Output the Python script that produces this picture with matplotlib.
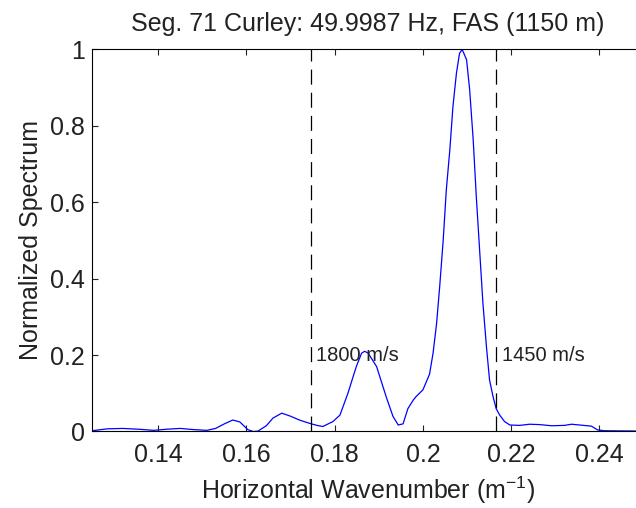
import numpy as np
import matplotlib
matplotlib.use('Agg')
import matplotlib.pyplot as plt

# =============================================================================
# Data
# =============================================================================
freq = 49.9987  # Hz
speeds = [1800, 1450]  # m/s, reference phase speeds

# normalized spectrum vs horizontal wavenumber (rad/m)
wavenumber = [0.1250, 0.1285, 0.1320, 0.1355, 0.1390, 0.1420, 0.1450, 0.1480,
              0.1510, 0.1530, 0.1550, 0.1569, 0.1585, 0.1603, 0.1615, 0.1626,
              0.1645, 0.1660, 0.1680, 0.1700, 0.1720, 0.1744, 0.1760, 0.1773,
              0.1796, 0.1812, 0.1830, 0.1849, 0.1861, 0.1868, 0.1876, 0.1895,
              0.1917, 0.1932, 0.1944, 0.1955, 0.1966, 0.1978, 0.1985, 0.2000,
              0.2015, 0.2023, 0.2031, 0.2038, 0.2046, 0.2053, 0.2061, 0.2068,
              0.2076, 0.2083, 0.2089, 0.2099, 0.2106, 0.2114, 0.2121, 0.2129,
              0.2136, 0.2144, 0.2151, 0.2159, 0.2166, 0.2174, 0.2185, 0.2197,
              0.2219, 0.2242, 0.2265, 0.2292, 0.2321, 0.2337, 0.2355, 0.2382,
              0.2396, 0.2412, 0.2500]
spectrum = [0.002, 0.007, 0.008, 0.006, 0.003, 0.006, 0.008, 0.005,
            0.003, 0.008, 0.020, 0.030, 0.025, 0.005, 0.000, 0.001,
            0.015, 0.035, 0.048, 0.040, 0.030, 0.021, 0.016, 0.013,
            0.026, 0.043, 0.100, 0.170, 0.205, 0.210, 0.205, 0.170,
            0.090, 0.040, 0.017, 0.020, 0.060, 0.082, 0.092, 0.109,
            0.150, 0.205, 0.283, 0.379, 0.501, 0.632, 0.737, 0.850,
            0.938, 0.990, 1.000, 0.973, 0.894, 0.763, 0.615, 0.466,
            0.336, 0.222, 0.135, 0.091, 0.060, 0.043, 0.026, 0.017,
            0.016, 0.019, 0.018, 0.015, 0.016, 0.019, 0.017, 0.014,
            0.004, 0.002, 0.001]

xticks = [0.14, 0.16, 0.18, 0.2, 0.22, 0.24]
yticks = [0, 0.2, 0.4, 0.6, 0.8, 1]

# =============================================================================
# Style
# =============================================================================
plt.rcParams['font.family'] = ['Liberation Sans', 'DejaVu Sans']
plt.rcParams['mathtext.fontset'] = 'custom'
plt.rcParams['mathtext.rm'] = 'Liberation Sans'
plt.rcParams['mathtext.default'] = 'regular'

def fmt(v):
    return ('%g' % v)

# =============================================================================
# Plot
# =============================================================================
fig = plt.figure(figsize=(6.36, 5.08), dpi=100)
ax = fig.add_axes([0.1447, 0.1506, 0.8671, 0.752])

ax.plot(wavenumber, spectrum, color='#0000ff', lw=0.9)

for c in speeds:
    k = 2 * np.pi * freq / c
    ax.axvline(k, color='k', lw=0.9, dashes=(12, 6.5))
    ax.text(k + 0.0012, 0.2, f'{c} m/s', fontsize=14.5, va='center', ha='left',
            color='#222222')

ax.set_xlim(0.125, 0.25)
ax.set_ylim(0, 1)
ax.set_xticks(xticks)
ax.set_xticklabels([fmt(v) for v in xticks])
ax.set_yticks(yticks)
ax.set_yticklabels([fmt(v) for v in yticks])
ax.tick_params(direction='in', length=4, width=0.8, labelsize=18, top=True,
               colors='#222222', pad=8)
ax.tick_params(axis='y', pad=5)
for s in ax.spines.values():
    s.set_linewidth(0.8)

ax.set_title('Seg. 71 Curley: 49.9987 Hz, FAS (1150 m)', fontsize=18, pad=13,
             color='#222222')
ax.set_xlabel('Horizontal Wavenumber (m$^{-1}$)', fontsize=18, labelpad=6,
              color='#222222')
ax.set_ylabel('Normalized Spectrum', fontsize=18, labelpad=5, color='#222222')

fig.savefig('out.png', dpi=100)
